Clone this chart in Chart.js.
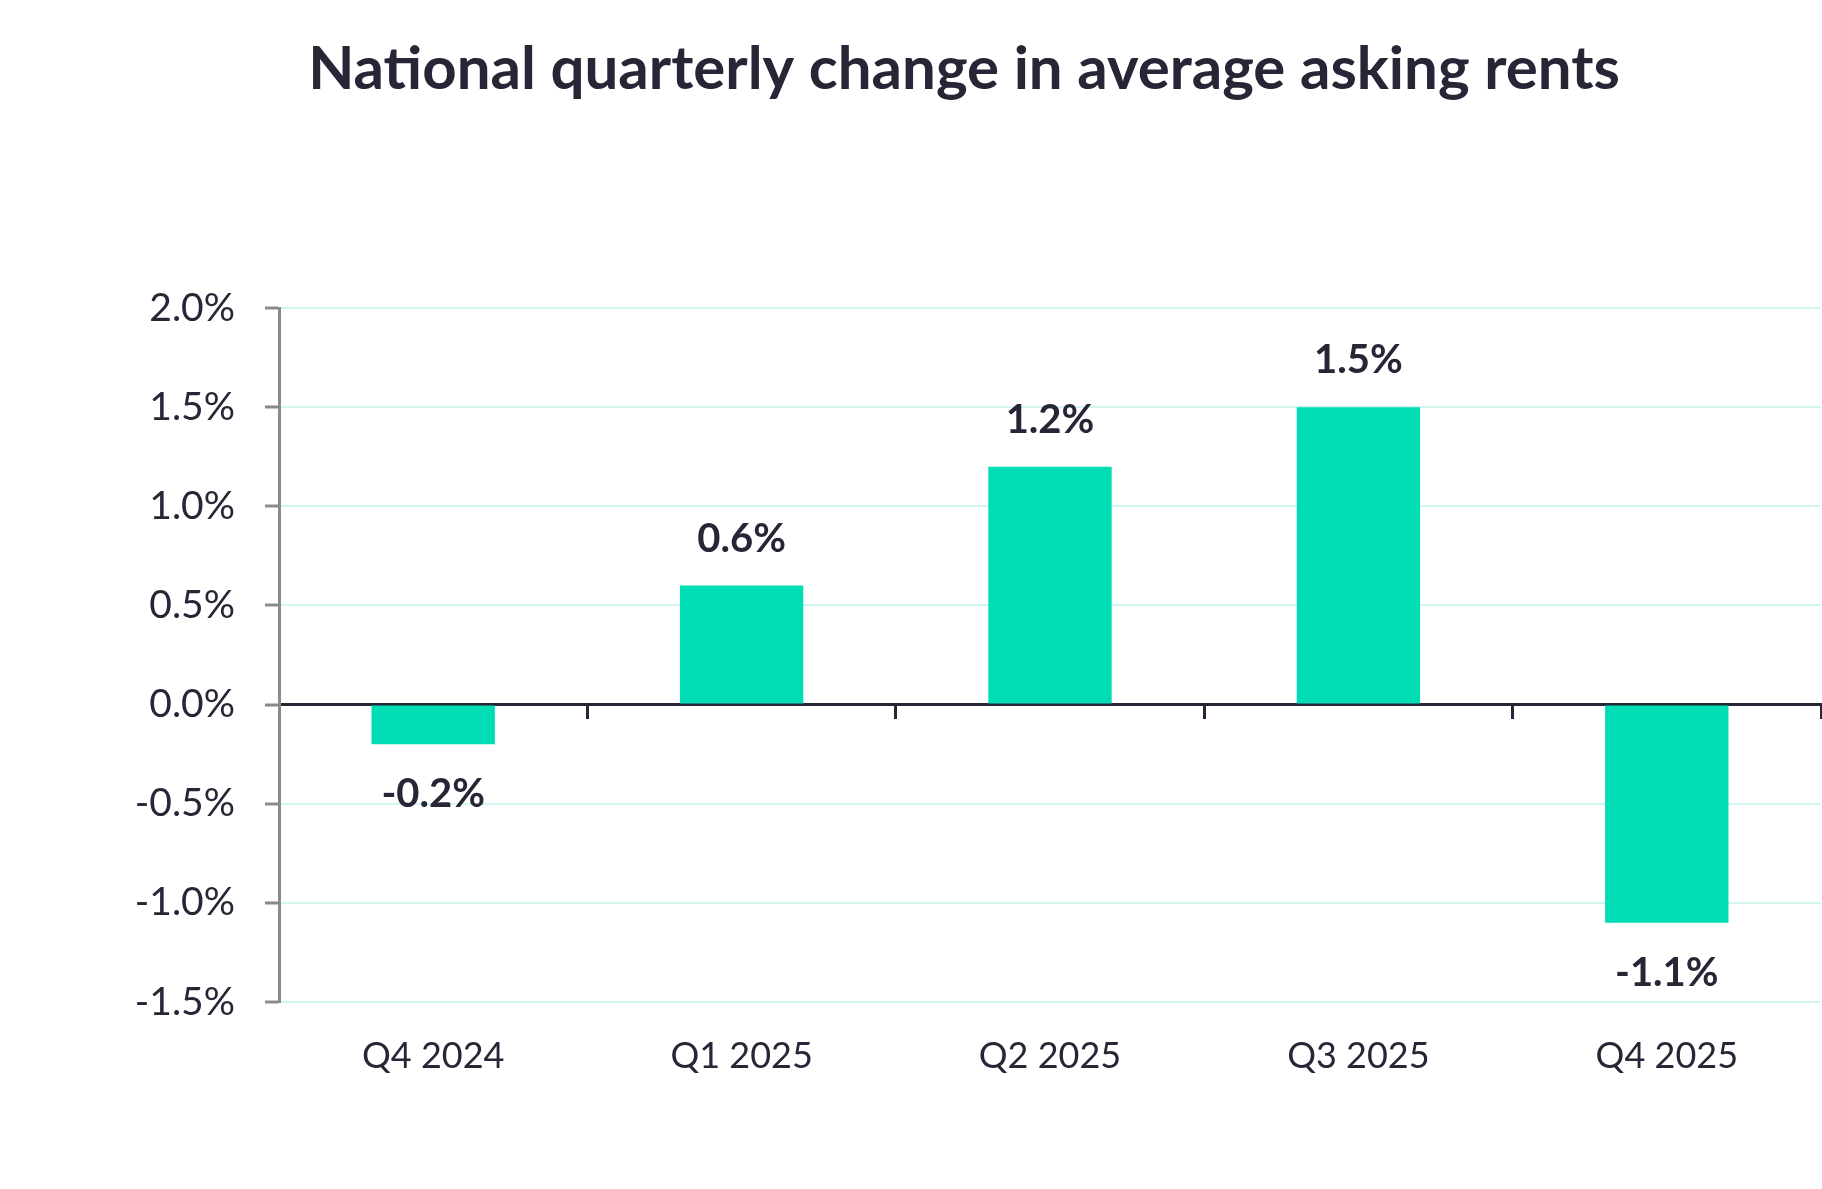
<!DOCTYPE html>
<html>
<head>
<meta charset="utf-8">
<script src="https://cdn.jsdelivr.net/npm/chart.js@4.4.1/dist/chart.umd.min.js"></script>
<style>
  html, body { margin: 0; padding: 0; background: #ffffff; }
  #wrap { width: 1822px; height: 1189px; position: relative; }
</style>
</head>
<body>
<div id="wrap"><canvas id="c"></canvas></div>
<script>
const titleText = 'National quarterly change in average asking rents';
const categories = ['Q4 2024', 'Q1 2025', 'Q2 2025', 'Q3 2025', 'Q4 2025'];
const rentChange = [-0.2, 0.6, 1.2, 1.5, -1.1];
const yTicks = [-1.5, -1.0, -0.5, 0.0, 0.5, 1.0, 1.5, 2.0];

const TEXT = '#262637';
const BAR = '#00DDB4';
const GRID = '#d2f6ef';
const FONT = 'Lato, "Open Sans", sans-serif';

const titlePlugin = {
  id: 'offsetTitle',
  afterDraw(chart) {
    const ctx = chart.ctx;
    ctx.save();
    ctx.font = 'bold 60px ' + FONT;
    ctx.fillStyle = TEXT;
    ctx.textAlign = 'center';
    ctx.textBaseline = 'alphabetic';
    ctx.fillText(titleText, 964, 89);
    ctx.restore();
  }
};

const labelPlugin = {
  id: 'barLabels',
  afterDatasetsDraw(chart) {
    const ctx = chart.ctx;
    const meta = chart.getDatasetMeta(0);
    ctx.save();
    ctx.font = 'bold 40px ' + FONT;
    ctx.fillStyle = TEXT;
    ctx.textAlign = 'center';
    ctx.textBaseline = 'middle';
    meta.data.forEach((bar, i) => {
      const v = rentChange[i];
      const y = v >= 0 ? bar.y - 47 : bar.y + 50;
      ctx.fillText(v.toFixed(1) + '%', bar.x, y);
    });
    ctx.restore();
  }
};

new Chart(document.getElementById('c'), {
  type: 'bar',
  data: {
    labels: categories,
    datasets: [{
      data: rentChange,
      backgroundColor: BAR,
      borderWidth: 0,
      barPercentage: 0.4,
      categoryPercentage: 1.0,
      xAxisID: 'x'
    }]
  },
  options: {
    responsive: true,
    maintainAspectRatio: false,
    animation: false,
    layout: { padding: { left: 0, right: 1, top: 308, bottom: 0 } },
    plugins: {
      legend: { display: false },
      tooltip: { enabled: false },
      title: { display: false }
    },
    scales: {
      x: {
        type: 'category',
        position: 'bottom',
        offset: true,
        grid: { display: false, offset: true },
        border: { display: false },
        ticks: { color: TEXT, font: { family: FONT, size: 36 }, padding: 25 },
        afterFit(scale) { scale.height = 187; }
      },
      x0: {
        type: 'category',
        position: { y: 0 },
        offset: true,
        grid: {
          display: true,
          offset: true,
          drawOnChartArea: false,
          drawTicks: true,
          tickLength: 13,
          tickColor: TEXT,
          tickWidth: 3,
          lineWidth: 3,
          color: TEXT
        },
        border: { display: true, color: TEXT, width: 3 },
        ticks: { display: false }
      },
      y: {
        min: -1.5,
        max: 2.0,
        afterBuildTicks(scale) { scale.ticks = yTicks.map(v => ({ value: v })); },
        grid: {
          color: GRID,
          lineWidth: 2,
          tickColor: '#8a8a8a',
          tickLength: 14,
          tickWidth: 3
        },
        border: { display: true, color: '#8a8a8a', width: 3 },
        ticks: {
          color: TEXT,
          font: { family: FONT, size: 39 },
          padding: 30,
          callback: v => Number(v).toFixed(1) + '%'
        },
        afterFit(scale) { scale.width = 279; }
      }
    }
  },
  plugins: [labelPlugin, titlePlugin]
});
</script>
</body>
</html>
